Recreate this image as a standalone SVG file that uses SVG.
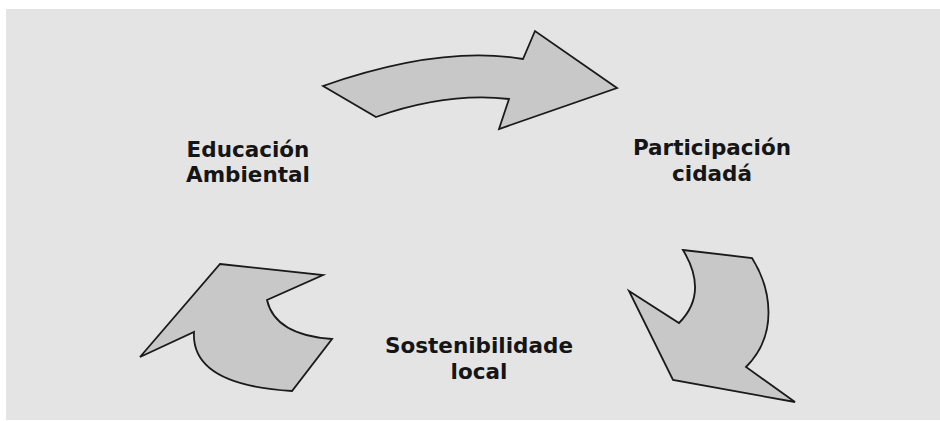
<svg xmlns="http://www.w3.org/2000/svg" width="940" height="421" viewBox="0 0 940 421">
<style>
.arrow{fill:#c8c8c8;stroke:#1a1a1a;stroke-width:1.8;stroke-linejoin:miter}
.lbl{font-family:"DejaVu Sans",Verdana,sans-serif;font-weight:bold;font-size:21.5px;fill:#151515;text-anchor:middle}
</style>
<rect x="0" y="0" width="940" height="421" fill="#ffffff"/>
<rect x="6" y="9" width="934" height="411" fill="#e4e4e4"/>
<g id="connectors">
<path id="arrow-top" class="arrow" d="M323,86 Q440,45 523,59 L535,31 L617,88 L499,129 L509,99 Q447,92 376,117 Z"/>
<path id="arrow-right" class="arrow" d="M683,250 L752,258 C772,290 778,335 746,367 L795,402 L673,380 L629,291 L679,323 Q709,293 683,250 Z"/>
<path id="arrow-left" class="arrow" d="M220,264 L323,275 L267,300 Q275,335 332,339 L292,391 Q191,385 194,332 L140,357 Z"/>
</g>
<g id="node-educacion">
<text class="lbl" x="248" y="157">Educación</text>
<text class="lbl" x="248" y="182">Ambiental</text>
</g>
<g id="node-participacion">
<text class="lbl" x="712" y="155">Participación</text>
<text class="lbl" x="712" y="181">cidadá</text>
</g>
<g id="node-sostenibilidade">
<text class="lbl" x="479" y="353">Sostenibilidade</text>
<text class="lbl" x="479" y="379">local</text>
</g>
</svg>
